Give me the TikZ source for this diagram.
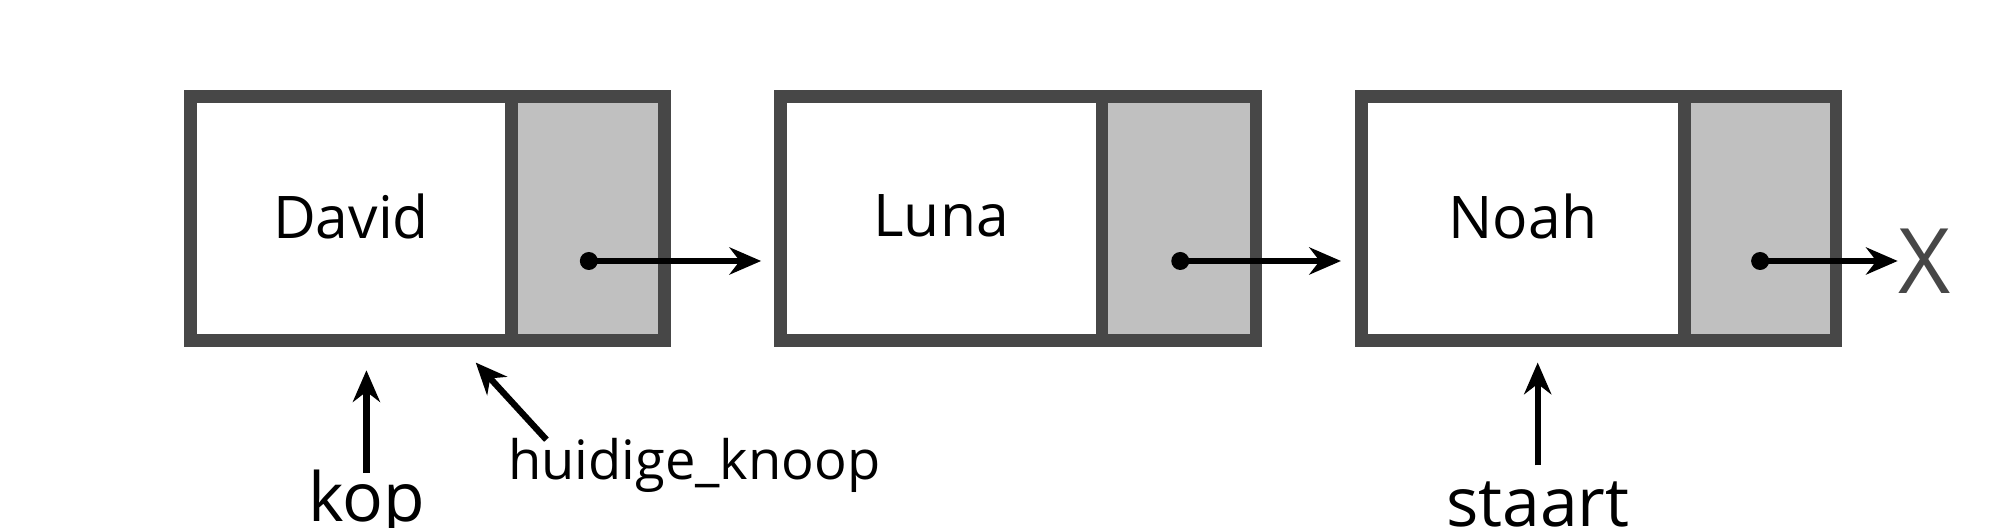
\documentclass[tikz,border=0pt]{standalone}
\usepackage{fontspec}
\setmainfont{Open Sans}
\usetikzlibrary{arrows.meta}
\definecolor{rand}{HTML}{474747}
\definecolor{vak}{HTML}{C0C0C0}
\tikzset{
  knoop/.style={draw=rand,line width=2.8pt,fill=white},
  wijzer/.style={draw=rand,line width=2.8pt,fill=vak},
  pijl/.style={-{Stealth[length=7pt,width=6pt]},line width=1.4pt},
  label/.style={font=\fontsize{15}{15}\selectfont,inner sep=0pt}
}
\begin{document}
\begin{tikzpicture}[x=0.01cm,y=-0.01cm]
    \useasboundingbox(0,0)rectangle(1568,410);
    \foreach \l/\d/\r/\n/\t in{148/398/517/david/David,607/857/977/luna/Luna,1059/1310/1428/noah/Noah}{
        \draw[knoop](\l,75)rectangle(\d,265);
        \draw[wijzer](\d,75)rectangle(\r,265);
        \node[font=\fontsize{13}{13}\selectfont](\n)at({(\l+\d)/2},168){\t};
        \coordinate(\n-p)at({\r-59},203);
    }
    \node[font=\fontsize{20}{20}\selectfont,text=rand,inner sep=0pt](nul)at(1497,203){X};
    \coordinate(luna-in)at(592,203);\coordinate(noah-in)at(1043,203);
    \foreach \a/\b in{david-p/luna-in,luna-p/noah-in,noah-p/nul.west}{
        \fill(\a)circle(7);
        \draw[pijl](\a)--(\b);
    }
    \node[label](kop)at(285,392){kop};
    \node[label,font=\fontsize{12}{12}\selectfont](huidig)at(540,362){huidige\_knoop};
    \node[label](staart)at(1196,392){staart};
    \coordinate(kop-t)at(285,288);\coordinate(huidig-t)at(370,282);\coordinate(staart-t)at(1196,282);
    \draw[pijl](285,368)--(kop-t);
    \draw[pijl](425,342)--(huidig-t);
    \draw[pijl](1196,362)--(staart-t);
\end{tikzpicture}
\end{document}
